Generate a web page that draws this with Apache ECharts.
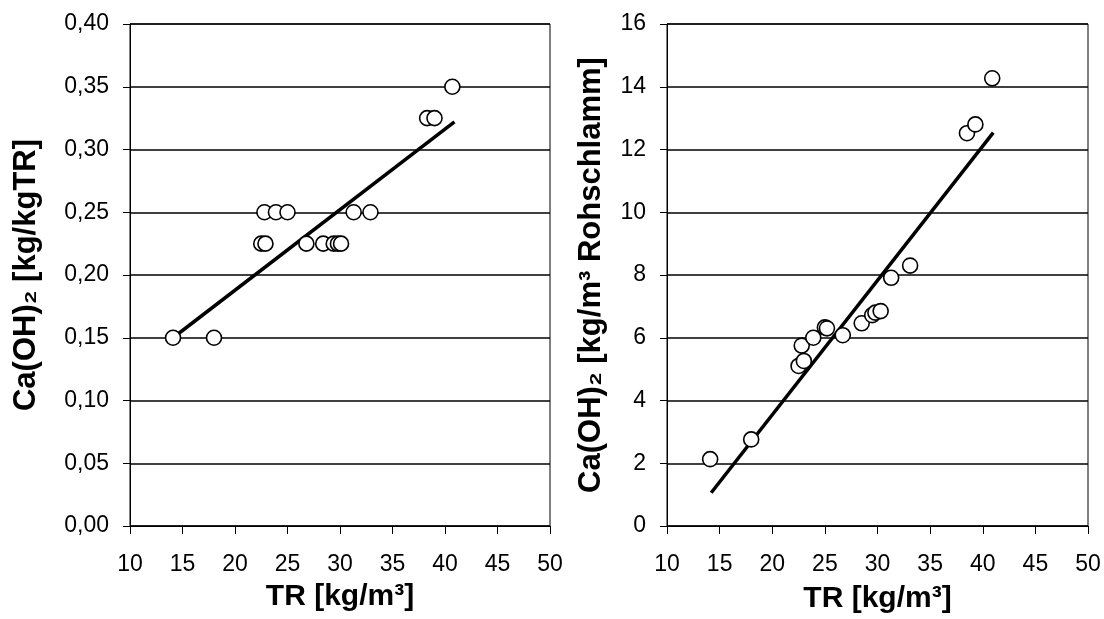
<!DOCTYPE html>
<html>
<head>
<meta charset="utf-8">
<script src="https://cdn.jsdelivr.net/npm/echarts@6/dist/echarts.min.js"></script>
<style>html,body{margin:0;padding:0;background:#fff}#c{width:1104px;height:619px}</style>
</head>
<body>
<div id="c"></div>
<script>
// Left chart: Ca(OH)2 [kg/kgTR] vs TR
var leftX = [14.1, 18.0, 22.8, 23.9, 25.0, 31.3, 32.9, 22.5, 22.9, 26.8, 28.4, 29.4, 29.8, 30.1, 38.3, 39.0, 40.7];
var leftY = [0.150, 0.150, 0.250, 0.250, 0.250, 0.250, 0.250, 0.225, 0.225, 0.225, 0.225, 0.225, 0.225, 0.225, 0.325, 0.325, 0.350];
var leftTrendX = [14.1, 40.9];
var leftTrendY = [0.150, 0.322];

// Right chart: Ca(OH)2 [kg/m³ Rohschlamm] vs TR
var rightX = [14.1, 18.0, 22.5, 23.0, 22.8, 23.9, 25.0, 25.2, 26.7, 28.5, 29.5, 29.8, 30.3, 31.3, 33.1, 38.5, 39.3, 40.9];
var rightY = [2.13, 2.76, 5.10, 5.26, 5.75, 6.00, 6.33, 6.30, 6.08, 6.46, 6.72, 6.80, 6.85, 7.91, 8.30, 12.52, 12.80, 14.27];
var rightTrendX = [14.2, 41.0];
var rightTrendY = [1.06, 12.54];

var xTicks = [10, 15, 20, 25, 30, 35, 40, 45, 50];
var leftYTicks = ['0,00', '0,05', '0,10', '0,15', '0,20', '0,25', '0,30', '0,35', '0,40'];
var rightYTicks = ['0', '2', '4', '6', '8', '10', '12', '14', '16'];

var xTitle = 'TR [kg/m³]';
var leftYTitle = 'Ca(OH)₂ [kg/kgTR]';
var rightYTitle = 'Ca(OH)₂ [kg/m³ Rohschlamm]';

function pairs(xs, ys) { return xs.map(function (x, i) { return [x, ys[i]]; }); }

var FONT = '"Liberation Sans", Arial, sans-serif';
var tickFont = { fontFamily: FONT, fontSize: 23, color: '#000' };
var xTitleFont = { fontFamily: FONT, fontSize: 30, fontWeight: 'bold', color: '#000' };
var yTitleFont = { fontFamily: FONT, fontSize: 31, fontWeight: 'bold', color: '#000' };

function xAxis(gi, gap) {
  return {
    type: 'value', gridIndex: gi, min: 10, max: 50, interval: 5,
    name: xTitle, nameLocation: 'middle', nameGap: gap, nameTextStyle: xTitleFont,
    axisLine: { show: true, onZero: false, lineStyle: { color: '#000', width: 1 } },
    axisTick: { show: true, inside: false, length: 8, lineStyle: { color: '#000', width: 1 } },
    axisLabel: Object.assign({ margin: 27, formatter: function (v) { return String(xTicks[Math.round((v - 10) / 5)]); } }, tickFont),
    splitLine: { show: false }
  };
}
function yAxis(gi, max, interval, labels, title, gap) {
  return {
    type: 'value', gridIndex: gi, min: 0, max: max, interval: interval,
    name: title, nameLocation: 'middle', nameGap: gap, nameRotate: 90, nameTextStyle: yTitleFont,
    axisLine: { show: true, lineStyle: { color: '#000', width: 1 } },
    axisTick: { show: true, inside: false, length: 7, lineStyle: { color: '#000', width: 1 } },
    axisLabel: Object.assign({ margin: 21, formatter: function (v) { return labels[Math.round(v / interval)]; } }, tickFont),
    splitLine: { show: true, lineStyle: { color: '#000', width: 1.6 } }
  };
}
var markerStyle = { color: '#fff', borderColor: '#000', borderWidth: 1.6, opacity: 1 };

var chart = echarts.init(document.getElementById('c'), null, { renderer: 'canvas' });
chart.setOption({
  animation: false,
  backgroundColor: '#fff',
  grid: [
    { left: 130, top: 24, width: 420, height: 502, show: true, borderColor: '#000', borderWidth: 1, backgroundColor: 'transparent' },
    { left: 667, top: 24, width: 421, height: 502, show: true, borderColor: '#000', borderWidth: 1, backgroundColor: 'transparent' }
  ],
  xAxis: [xAxis(0, 56), xAxis(1, 58)],
  yAxis: [
    yAxis(0, 0.4, 0.05, leftYTicks, leftYTitle, 88),
    yAxis(1, 16, 2, rightYTicks, rightYTitle, 60)
  ],
  series: [
    { type: 'line', xAxisIndex: 0, yAxisIndex: 0, data: pairs(leftTrendX, leftTrendY), showSymbol: false, symbol: 'none', lineStyle: { color: '#000', width: 3.5 }, z: 3 },
    { type: 'scatter', xAxisIndex: 0, yAxisIndex: 0, data: pairs(leftX, leftY), symbol: 'circle', symbolSize: 15, itemStyle: markerStyle, z: 4 },
    { type: 'line', xAxisIndex: 1, yAxisIndex: 1, data: pairs(rightTrendX, rightTrendY), showSymbol: false, symbol: 'none', lineStyle: { color: '#000', width: 3.5 }, z: 3 },
    { type: 'scatter', xAxisIndex: 1, yAxisIndex: 1, data: pairs(rightX, rightY), symbol: 'circle', symbolSize: 15, itemStyle: markerStyle, z: 4 }
  ]
});
</script>
</body>
</html>
